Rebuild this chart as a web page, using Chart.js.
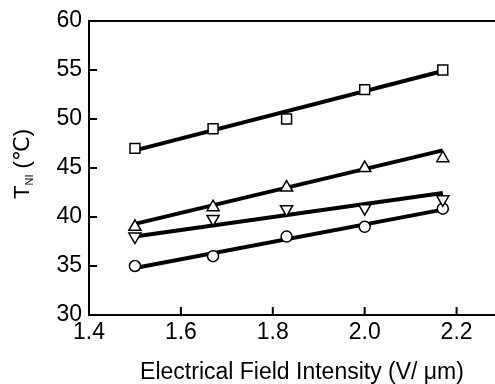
<!DOCTYPE html>
<html>
<head>
<meta charset="utf-8">
<script src="https://cdn.jsdelivr.net/npm/chart.js@4.4.0/dist/chart.umd.min.js"></script>
<style>
    html, body { margin: 0; padding: 0; background: #fff; }
    #wrap { width: 495px; height: 384px; }
</style>
</head>
<body>
<div id="wrap"><canvas id="chart"></canvas></div>
<script>
(function () {
    "use strict";

    // Data
    const xValues = [1.5, 1.67, 1.83, 2.0, 2.17];
    const squareT = [47, 49, 50, 53, 55];
    const upTriT = [39, 41, 43, 45, 46];
    const downTriT = [38, 39.8, 40.8, 40.9, 41.8];
    const circleT = [35, 36, 38, 39, 40.85];

    // Fitted lines (end points)
    const fitX = [1.5, 2.17];
    const squareFit = [46.8, 54.9];
    const upTriFit = [39.3, 46.8];
    const downTriFit = [38.0, 42.45];
    const circleFit = [34.8, 40.75];

    const xTicks = [1.4, 1.6, 1.8, 2.0, 2.2];
    const yTicks = [30, 35, 40, 45, 50, 55, 60];

    const xTitle = "Electrical Field Intensity (V/ μm)";

    const FONT = "'Liberation Sans', Arial, 'DejaVu Sans', sans-serif";

    const pts = (ys, xs) => ys.map((y, i) => ({ x: (xs || xValues)[i], y: y }));

    function markers(ys, style, radius, rotation) {
        return {
            data: pts(ys),
            showLine: false,
            pointStyle: style,
            pointRadius: radius,
            pointRotation: rotation || 0,
            pointBackgroundColor: "#fff",
            pointBorderColor: "#000",
            pointBorderWidth: 1.5,
            order: 0,
        };
    }

    function fitLine(ys) {
        return {
            data: pts(ys, fitX),
            showLine: true,
            borderColor: "#000",
            borderWidth: 4,
            pointRadius: 0,
            order: 1,
        };
    }

    const framePlugin = {
        id: "frame",
        beforeDraw(chart) {
            const ctx = chart.ctx;
            ctx.save();
            ctx.fillStyle = "#fff";
            ctx.fillRect(0, 0, chart.width, chart.height);
            ctx.restore();
        },
        afterDraw(chart) {
            const ctx = chart.ctx;
            const a = chart.chartArea;
            const xs = chart.scales.x;
            const ys = chart.scales.y;
            ctx.save();
            ctx.strokeStyle = "#000";
            ctx.lineWidth = 2;
            ctx.beginPath();
            ctx.moveTo(a.right + 2, a.top);
            ctx.lineTo(a.left, a.top);
            ctx.lineTo(a.left, a.bottom);
            ctx.lineTo(a.right + 2, a.bottom);
            // inward ticks
            yTicks.forEach((v) => {
                const py = ys.getPixelForValue(v);
                ctx.moveTo(a.left, py);
                ctx.lineTo(a.left + 8, py);
            });
            xTicks.forEach((v) => {
                const px = xs.getPixelForValue(v);
                ctx.moveTo(px, a.bottom);
                ctx.lineTo(px, a.bottom - 8);
            });
            ctx.stroke();

            ctx.fillStyle = "#000";
            ctx.textBaseline = "alphabetic";

            // x axis title
            ctx.font = "23px " + FONT;
            ctx.textAlign = "center";
            ctx.fillText(xTitle, 302, 379);

            // y axis title: T_NI (℃)
            ctx.translate(29, 164);
            ctx.rotate(-Math.PI / 2);
            ctx.textAlign = "left";
            const big = "22px " + FONT;
            const small = "11px " + FONT;
            ctx.font = big;
            const wT = ctx.measureText("T").width;
            ctx.font = small;
            const wNI = ctx.measureText("NI").width;
            ctx.font = big;
            const wRest = ctx.measureText(" (℃)").width;
            let x0 = -(wT + wNI + wRest) / 2;
            ctx.fillText("T", x0, 0);
            x0 += wT;
            ctx.font = small;
            ctx.fillText("NI", x0, 4);
            x0 += wNI;
            ctx.font = big;
            ctx.fillText(" (℃)", x0, 0);
            ctx.restore();
        },
    };

    const ctx = document.getElementById("chart").getContext("2d");

    new Chart(ctx, {
        type: "scatter",
        data: {
            datasets: [
                markers(squareT, "rect", 7),
                markers(upTriT, "triangle", 7),
                markers(downTriT, "triangle", 7, 180),
                markers(circleT, "circle", 5.5),
                fitLine(squareFit),
                fitLine(upTriFit),
                fitLine(downTriFit),
                fitLine(circleFit),
            ],
        },
        options: {
            responsive: true,
            maintainAspectRatio: false,
            animation: false,
            events: [],
            layout: {
                autoPadding: false,
                padding: { top: 21, right: 0, left: 0, bottom: 0 },
            },
            plugins: {
                legend: { display: false },
                tooltip: { enabled: false },
            },
            scales: {
                x: {
                    type: "linear",
                    min: 1.4,
                    max: 2.2836,
                    afterBuildTicks: (s) => {
                        s.ticks = xTicks.map((v) => ({ value: v }));
                    },
                    afterFit: (s) => {
                        s.height = 69;
                    },
                    ticks: {
                        color: "#000",
                        padding: 4,
                        maxRotation: 0,
                        font: { family: FONT, size: 23 },
                        callback: (v) => Number(v).toFixed(1),
                    },
                    grid: { display: false, drawTicks: false },
                    border: { display: false },
                },
                y: {
                    type: "linear",
                    min: 30,
                    max: 60,
                    afterBuildTicks: (s) => {
                        s.ticks = yTicks.map((v) => ({ value: v }));
                    },
                    afterFit: (s) => {
                        s.width = 89;
                    },
                    ticks: {
                        color: "#000",
                        padding: 7,
                        font: { family: FONT, size: 23 },
                    },
                    grid: { display: false, drawTicks: false },
                    border: { display: false },
                },
            },
        },
        plugins: [framePlugin],
    });
})();
</script>
</body>
</html>
